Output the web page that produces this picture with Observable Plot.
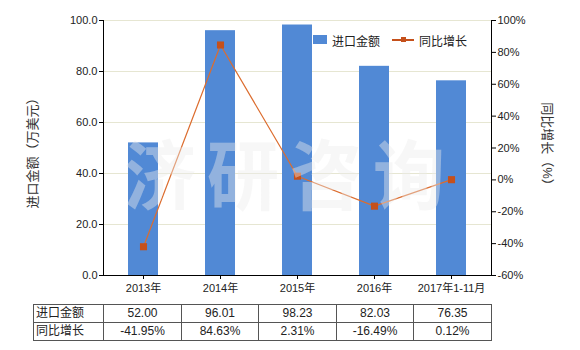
<!DOCTYPE html>
<html><head><meta charset="utf-8">
<script src="https://cdn.jsdelivr.net/npm/d3@7"></script>
<script src="https://cdn.jsdelivr.net/npm/@observablehq/plot@0.6"></script>
<style>
body{margin:0;background:#fff;}
#wrap{position:relative;width:580px;height:350px;overflow:hidden;font-family:"Liberation Sans","Noto Sans CJK SC",sans-serif;color:#222;}
#chart{position:absolute;left:0;top:0;}
.abs{position:absolute;white-space:nowrap;}
.ytitle{font-size:13px;color:#333;}
table.dt{position:absolute;left:33px;top:304px;border-collapse:collapse;font-size:12px;table-layout:fixed;}
table.dt td{border:1px solid #555;height:17px;padding:0;text-align:center;line-height:17px;}
table.dt td.h{text-align:left;padding-left:2px;}
.wm{position:absolute;left:124px;top:134px;font-family:"Noto Sans CJK SC",sans-serif;font-weight:bold;font-size:72px;letter-spacing:11px;color:rgba(236,236,236,0.42);pointer-events:none;line-height:1;transform:scaleY(1.05);transform-origin:top left;}
.leg{font-size:12px;}
</style></head><body><div id="wrap"><div id="chart"></div></div>
<script>
const categories = ["2013年","2014年","2015年","2016年","2017年1-11月"];
const importValues = [52.00, 96.01, 98.23, 82.03, 76.35];
const growthValues = [-41.95, 84.63, 2.31, -16.49, 0.12];
const leftTicks = [0, 20, 40, 60, 80, 100];
const rightTicks = [-60, -40, -20, 0, 20, 40, 60, 80, 100];
const growthMin = -60, growthMax = 100;
const toLeft = g => (g - growthMin) / (growthMax - growthMin) * 100;
const fromLeft = v => v / 100 * (growthMax - growthMin) + growthMin;
const data = categories.map((c, i) => ({c, v: importValues[i], g: growthValues[i], gy: toLeft(growthValues[i])}));

const barColor = "#5189d5";
const lineColor = "#dc6d2f";
const markColor = "#c5501b";

const plot = Plot.plot({
  width: 580, height: 300,
  marginLeft: 103, marginRight: 89, marginTop: 20, marginBottom: 25,
  style: {fontFamily: '"Liberation Sans","Noto Sans CJK SC",sans-serif', fontSize: "11px", color: "#222", background: "transparent"},
  x: {domain: categories, paddingInner: 0.61, paddingOuter: 0.305},
  y: {domain: [0, 100]},
  marks: [
    Plot.gridY(leftTicks.filter(d => d > 0), {stroke: "#e6e6d2", strokeOpacity: 1}),
    Plot.barY(data, {x: "c", y: "v", fill: barColor}),
    Plot.frame({anchor: "left", stroke: "#000"}),
    Plot.frame({anchor: "right", stroke: "#000"}),
    Plot.frame({anchor: "bottom", stroke: "#000"}),
    Plot.axisY(leftTicks, {anchor: "left", tickFormat: d => d.toFixed(1), tickSize: 4, tickPadding: 2, label: null, stroke: "#000"}),
    Plot.axisY(rightTicks.map(toLeft), {anchor: "right", tickFormat: d => Math.round(fromLeft(d)) + "%", tickSize: 4, tickPadding: 2, label: null, stroke: "#000"}),
    Plot.axisX({tickSize: 4, tickPadding: 5, label: null, stroke: "#000"}),
    Plot.line(data, {x: "c", y: "gy", stroke: lineColor, strokeWidth: 1.2}),
    Plot.dot(data, {x: "c", y: "gy", symbol: "square", r: 4, fill: markColor, stroke: "none"})
  ]
});
document.getElementById("chart").appendChild(plot);

const wrap = document.getElementById("wrap");
// watermark
const wm = document.createElement("div");
wm.className = "wm"; wm.textContent = "济研咨询";
wrap.appendChild(wm);

// axis titles
const lt = document.createElement("div");
lt.className = "abs ytitle"; lt.textContent = "进口金额（万美元）";
lt.style.left = "31px"; lt.style.top = "150px";
lt.style.transform = "translate(-50%,-50%) rotate(-90deg)";
wrap.appendChild(lt);
const rt = document.createElement("div");
rt.className = "abs ytitle"; rt.textContent = "同比增长（%）";
rt.style.left = "548px"; rt.style.top = "147px";
rt.style.transform = "translate(-50%,-50%) rotate(90deg)";
wrap.appendChild(rt);

// legend
const legHTML = `
<div class="abs" style="left:313px;top:35px;width:14px;height:9px;background:${barColor}"></div>
<div class="abs leg" style="left:332px;top:32px;">进口金额</div>
<div class="abs" style="left:392px;top:39px;width:22px;height:2px;background:${markColor}"></div>
<div class="abs" style="left:401px;top:37px;width:5px;height:5px;background:${markColor}"></div>
<div class="abs leg" style="left:419px;top:32px;">同比增长</div>`;
wrap.insertAdjacentHTML("beforeend", legHTML);

// table
const tbl = document.createElement("table");
tbl.className = "dt";
const colW = [70, 78, 77, 78, 77, 78];
const cg = document.createElement("colgroup");
colW.forEach(w => { const c = document.createElement("col"); c.style.width = w + "px"; cg.appendChild(c); });
tbl.appendChild(cg);
const rows = [
  ["进口金额", importValues.map(v => v.toFixed(2))],
  ["同比增长", growthValues.map(v => v.toFixed(2) + "%")]
];
rows.forEach(([h, vals]) => {
  const tr = document.createElement("tr");
  const th = document.createElement("td"); th.className = "h"; th.textContent = h; tr.appendChild(th);
  vals.forEach(v => { const td = document.createElement("td"); td.textContent = v; tr.appendChild(td); });
  tbl.appendChild(tr);
});
wrap.appendChild(tbl);
</script>
</body></html>
